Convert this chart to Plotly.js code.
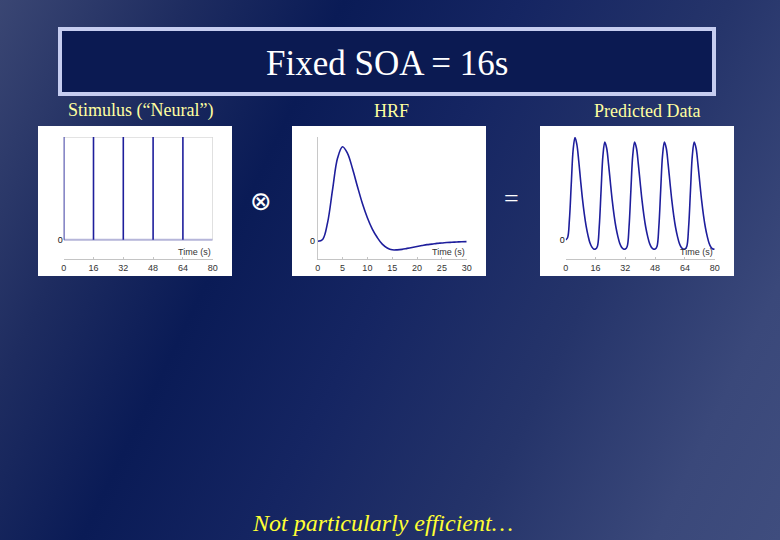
<!DOCTYPE html>
<html>
<head>
<meta charset="utf-8">
<script src="https://cdn.plot.ly/plotly-3.0.1.min.js"></script>
<style>
  html, body { margin: 0; padding: 0; width: 780px; height: 540px; overflow: hidden; }
  body {
    background: linear-gradient(116deg, #3a4673 0%, #1e2c60 18%, #0a1b56 33%, #152562 50%, #25346a 70%, #3a487a 88%, #3f4d7e 100%);
  }
  #chart { width: 780px; height: 540px; }
</style>
</head>
<body>
<div id="chart"></div>
<script>
// ---- Data ----
const stimulusOnsets = [0, 16, 32, 48, 64];
const stimulusAmplitude = 1;
const stimulusTicks = [0, 16, 32, 48, 64, 80];

const hrfTime = [0,1,2,3,4,5,6,7,8,9,10,11,12,13,14,15,16,17,18,19,20,21,22,23,24,25,26,27,28,29,30];
const hrfValues = [0, 0.02, 0.2, 0.55, 0.88, 1.0, 0.93, 0.77, 0.58, 0.40, 0.25, 0.13, 0.04, -0.03, -0.07, -0.09,
                   -0.09, -0.085, -0.075, -0.065, -0.055, -0.045, -0.035, -0.03, -0.022, -0.018, -0.013, -0.01, -0.007, -0.004, -0.003];
const hrfTicks = [0, 5, 10, 15, 20, 25, 30];

const predTime = [0,1,2,3,4,5,6,7,8,9,10,11,12,13,14,15,16,17,18,19,20,21,22,23,24,25,26,27,28,29,30,
  31,32,33,34,35,36,37,38,39,40,41,42,43,44,45,46,47,48,49,50,51,52,53,54,55,56,57,58,59,60,
  61,62,63,64,65,66,67,68,69,70,71,72,73,74,75,76,77,78,79,80];
const predValues = [
  0, 0.02, 0.2, 0.55, 0.88, 1.0, 0.93, 0.77, 0.58, 0.40, 0.25, 0.13, 0.04, -0.03, -0.07, -0.09,
  -0.09, -0.065, 0.125, 0.485, 0.825, 0.955, 0.895, 0.74, 0.558, 0.382, 0.237, 0.12, 0.033, -0.034, -0.073, -0.09,
  -0.09, -0.065, 0.125, 0.485, 0.825, 0.955, 0.895, 0.74, 0.558, 0.382, 0.237, 0.12, 0.033, -0.034, -0.073, -0.09,
  -0.09, -0.065, 0.125, 0.485, 0.825, 0.955, 0.895, 0.74, 0.558, 0.382, 0.237, 0.12, 0.033, -0.034, -0.073, -0.09,
  -0.09, -0.065, 0.125, 0.485, 0.825, 0.955, 0.895, 0.74, 0.558, 0.382, 0.237, 0.12, 0.033, -0.034, -0.073, -0.09,
  -0.09];

const titleText = "Fixed SOA = 16s";
const panelTitles = ["Stimulus (\u201cNeural\u201d)", "HRF", "Predicted Data"];
const axisLabel = "Time (s)";
const footerText = "Not particularly efficient\u2026";

// ---- Build traces ----
const sx = [], sy = [];
stimulusOnsets.forEach(t => { sx.push(t, t, null); sy.push(0, stimulusAmplitude, null); });

const lineColor = '#1e1e9c';
const traces = [
  { x: sx, y: sy, xaxis: 'x', yaxis: 'y', mode: 'lines', cliponaxis: false, line: { color: lineColor, width: 1.6 }, hoverinfo: 'skip' },
  { x: hrfTime, y: hrfValues, xaxis: 'x2', yaxis: 'y2', mode: 'lines', line: { color: lineColor, width: 1.6, shape: 'spline', smoothing: 1 }, hoverinfo: 'skip' },
  { x: predTime, y: predValues, xaxis: 'x3', yaxis: 'y3', mode: 'lines', line: { color: lineColor, width: 1.6, shape: 'spline', smoothing: 1 }, hoverinfo: 'skip' }
];

const W = 780, H = 540;
const px = v => v / W;
const py = v => 1 - v / H;

const tickFont = { family: 'Liberation Sans, Arial, sans-serif', size: 9, color: '#333333' };
function xAx(domain, ticks, anchor) {
  return {
    domain: domain, range: [ticks[0], ticks[ticks.length - 1]], anchor: anchor,
    tickvals: ticks, ticktext: ticks.map(String), tickfont: tickFont,
    showline: true, linecolor: '#c4c4c4', linewidth: 1,
    ticks: 'inside', ticklen: 2, tickcolor: '#c4c4c4',
    showgrid: false, zeroline: false, fixedrange: true
  };
}
function yAx(domain, range, anchor, showLine) {
  return {
    domain: domain, range: range, anchor: anchor,
    tickvals: [0], ticktext: ['0'], tickfont: { family: 'Liberation Sans, Arial, sans-serif', size: 9, color: '#111111' },
    showline: showLine, linecolor: '#c8c8c8', linewidth: 1, ticks: '',
    showgrid: false, zeroline: false, fixedrange: true
  };
}

function label(text, x, y, font) {
  return { text: text, xref: 'paper', yref: 'paper', x: px(x), y: py(y), xanchor: 'center', yanchor: 'middle',
           showarrow: false, font: font };
}
const serif = 'Liberation Serif, Times New Roman, serif';

const yDom = [1 - 259 / H, 1 - 137 / H];
const layout = {
  width: W, height: H,
  margin: { l: 0, r: 0, t: 0, b: 0 },
  paper_bgcolor: 'rgba(0,0,0,0)', plot_bgcolor: 'rgba(0,0,0,0)',
  showlegend: false,
  xaxis: xAx([px(63.7), px(212.7)], stimulusTicks, 'y'),
  yaxis: yAx(yDom, [-0.188, 1], 'x', false),
  xaxis2: xAx([px(317.7), px(466.7)], hrfTicks, 'y2'),
  yaxis2: yAx(yDom, [-0.187, 1.103], 'x2', true),
  xaxis3: xAx([px(565.7), px(714.7)], stimulusTicks, 'y3'),
  yaxis3: yAx(yDom, [-0.188, 1.005], 'x3', false),
  shapes: [
    { type: 'rect', xref: 'paper', yref: 'paper', x0: px(60), x1: px(714), y0: py(94), y1: py(29),
      fillcolor: '#0b1a52', line: { color: '#c6cdf0', width: 4 }, layer: 'below' },
    { type: 'rect', xref: 'paper', yref: 'paper', x0: px(38), x1: px(232), y0: py(276), y1: py(126), fillcolor: '#ffffff', line: { width: 0 }, layer: 'below' },
    { type: 'rect', xref: 'paper', yref: 'paper', x0: px(292), x1: px(486), y0: py(276), y1: py(126), fillcolor: '#ffffff', line: { width: 0 }, layer: 'below' },
    { type: 'rect', xref: 'paper', yref: 'paper', x0: px(540), x1: px(734), y0: py(276), y1: py(126), fillcolor: '#ffffff', line: { width: 0 }, layer: 'below' },
    { type: 'rect', xref: 'x', yref: 'y', x0: stimulusTicks[0], x1: stimulusTicks[stimulusTicks.length - 1], y0: 0, y1: stimulusAmplitude,
      line: { color: '#c8c8c8', width: 1 }, fillcolor: 'rgba(0,0,0,0)', layer: 'below' },
    { type: 'line', xref: 'x', yref: 'y', x0: stimulusTicks[0], x1: stimulusTicks[stimulusTicks.length - 1], y0: 0, y1: 0,
      line: { color: '#b6b6da', width: 2 }, layer: 'below' }
  ],
  annotations: [
    label(titleText, 387, 63, { family: serif, size: 35, color: '#ffffff' }),
    label(panelTitles[0], 140, 111, { family: serif, size: 18, color: '#ffffa0' }),
    label(panelTitles[1], 391, 111, { family: serif, size: 18, color: '#ffffa0' }),
    label(panelTitles[2], 647, 111, { family: serif, size: 18, color: '#ffffa0' }),
    label('\u2297', 261, 201, { family: 'DejaVu Sans, sans-serif', size: 26, color: '#ffffff' }),
    label('=', 511, 199, { family: serif, size: 26, color: '#ffffff' }),
    { text: axisLabel, xref: 'x', yref: 'y', x: 80, y: -0.188, xanchor: 'right', yanchor: 'bottom', showarrow: false,
      font: { family: 'Liberation Sans, Arial, sans-serif', size: 9, color: '#333333' } },
    { text: axisLabel, xref: 'x2', yref: 'y2', x: 30, y: -0.187, xanchor: 'right', yanchor: 'bottom', showarrow: false,
      font: { family: 'Liberation Sans, Arial, sans-serif', size: 9, color: '#333333' } },
    { text: axisLabel, xref: 'x3', yref: 'y3', x: 80, y: -0.188, xanchor: 'right', yanchor: 'bottom', showarrow: false,
      font: { family: 'Liberation Sans, Arial, sans-serif', size: 9, color: '#333333' } },
    label('<i>' + footerText + '</i>', 382, 523, { family: serif, size: 24, color: '#ffff33' })
  ]
};

Plotly.newPlot('chart', traces, layout, { staticPlot: true, displayModeBar: false });
</script>
</body>
</html>
